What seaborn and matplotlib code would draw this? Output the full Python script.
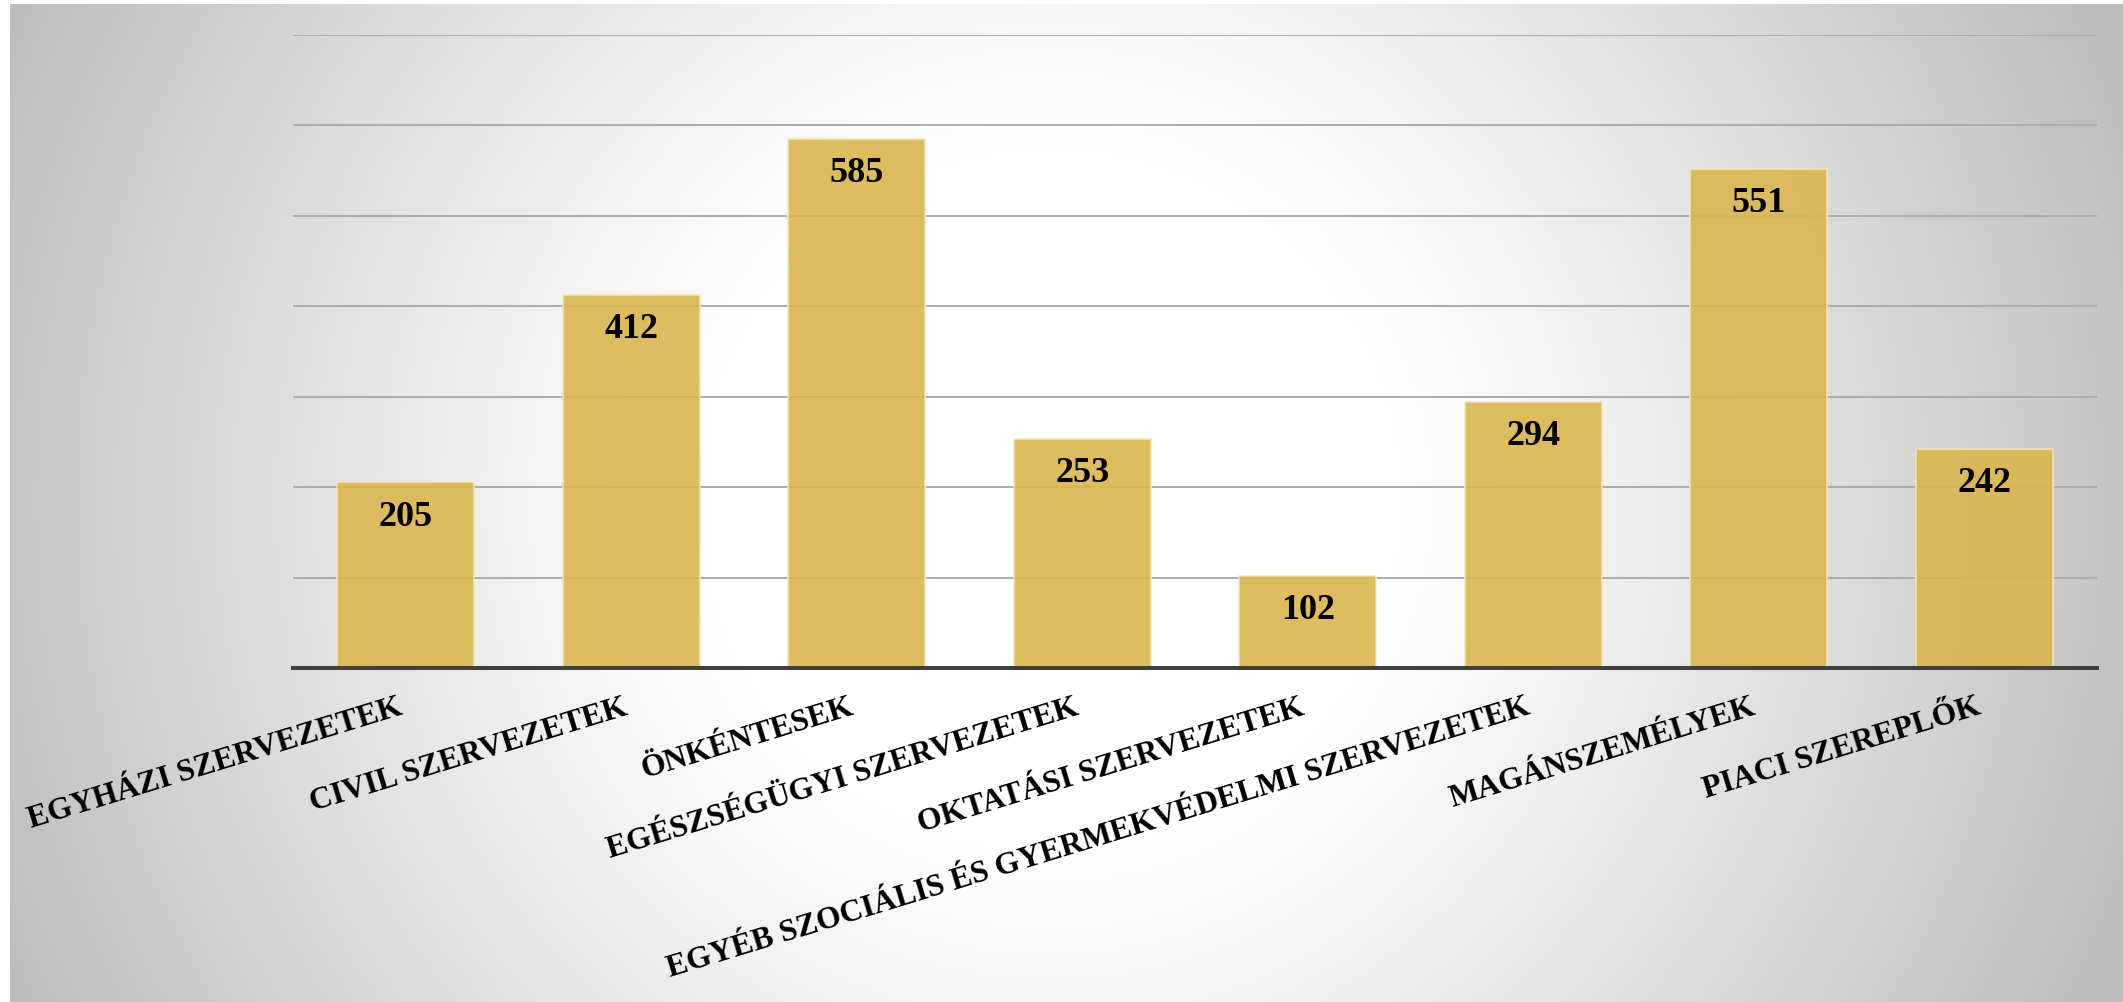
import numpy as np
import matplotlib
matplotlib.use("Agg")
import matplotlib.pyplot as plt
import seaborn as sns

# Chart data
categories = [
    "EGYHÁZI SZERVEZETEK",
    "CIVIL SZERVEZETEK",
    "ÖNKÉNTESEK",
    "EGÉSZSÉGÜGYI SZERVEZETEK",
    "OKTATÁSI SZERVEZETEK",
    "EGYÉB SZOCIÁLIS ÉS GYERMEKVÉDELMI SZERVEZETEK",
    "MAGÁNSZEMÉLYEK",
    "PIACI SZEREPLŐK",
]
values = [205, 412, 585, 253, 102, 294, 551, 242]
y_ticks = [0, 100, 200, 300, 400, 500, 600, 700]

W, H, DPI = 2123, 1002, 100

sns.set_style("white")
plt.rcParams["font.family"] = ["Liberation Serif", "DejaVu Serif"]

fig = plt.figure(figsize=(W / DPI, H / DPI), dpi=DPI, facecolor="white")

# radial grey gradient background
bg = fig.add_axes([10 / W, 0, 1 - 10 / W, 1 - 4 / H], zorder=-1)
yy, xx = np.mgrid[4:H, 10:W]
d = np.hypot(xx - 1050, yy - 500) / 1170
t = np.clip((d - 0.3) / 0.7, 0, 1) ** 1.1
v = (255 - 68 * t) / 255
bg.imshow(np.dstack([v, v, v]), aspect="auto", interpolation="bilinear")
bg.axis("off")

ax = fig.add_axes([293 / W, 1 - 668 / H, (2097 - 293) / W, (668 - 34.5) / H])
ax.patch.set_alpha(0)

sns.barplot(x=categories, y=values, color="#DBB650", saturation=1, alpha=0.9,
            width=0.606, edgecolor="#f3e6bd", linewidth=1.2, ax=ax, zorder=2)

ax.set_ylim(0, 700)
ax.set_yticks(y_ticks)
ax.yaxis.grid(True, color="#ababab", linewidth=1.4, zorder=0)
ax.set_axisbelow(True)
ax.tick_params(axis="y", length=0, labelleft=False)
ax.tick_params(axis="x", length=0, pad=18)
for s in ["top", "right", "left"]:
    ax.spines[s].set_visible(False)
ax.spines["bottom"].set_color("#404040")
ax.spines["bottom"].set_linewidth(2.9)
ax.spines["bottom"].set_zorder(3)

ax.set_xticks(range(len(categories)))
ax.set_xticklabels(categories, rotation=17, ha="right", fontsize=22.7,
                   fontweight="bold", color="black")
ax.set_xlabel("")
ax.set_ylabel("")

for i, val in enumerate(values):
    ax.annotate(str(val), (i, val), xytext=(0, -13), textcoords="offset points",
                ha="center", va="top", fontsize=26, fontweight="bold", color="black")

fig.savefig("out.png", dpi=DPI, facecolor="white")
